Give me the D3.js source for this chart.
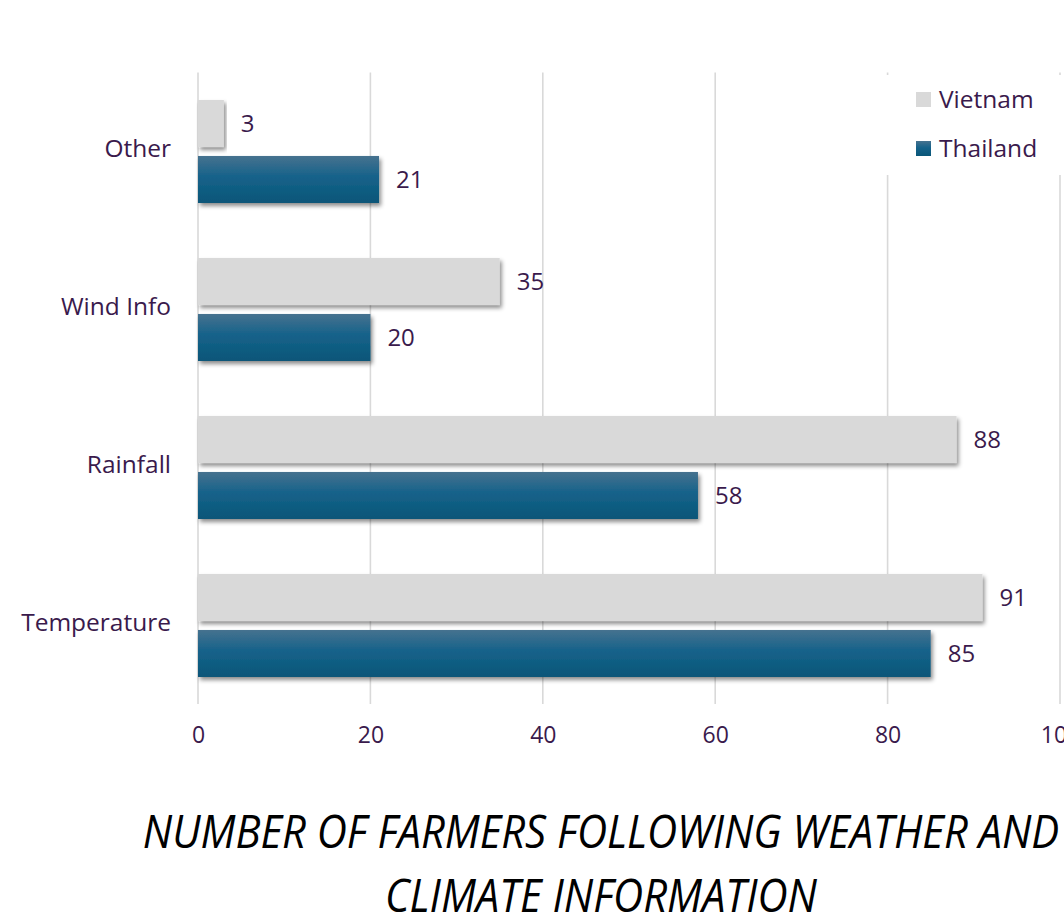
<html>
<head>
<meta charset="UTF-8">
<script src="https://d3js.org/d3.v7.min.js"></script>
<style>
body {
	margin: 0;
	background: #fff;
	font-family: "Open Sans", sans-serif;
}
</style>
</head>
<body>
<svg id="chart" width="1064" height="924"></svg>
<script>
// datos (de arriba hacia abajo)
var categories = ["Other", "Wind Info", "Rainfall", "Temperature"];
var seriesNames = ["Vietnam", "Thailand"];
var vietnam = [3, 35, 88, 91];
var thailand = [21, 20, 58, 85];
var xTicks = [0, 20, 40, 60, 80, 100];
var titleLines = ["NUMBER OF FARMERS FOLLOWING WEATHER AND", "CLIMATE INFORMATION"];

var data = categories.map((c, i) => ({cat: c, Vietnam: vietnam[i], Thailand: thailand[i]}));

var svg = d3.select("#chart"),
	margin = {top: 72.5, left: 198, bottom: 220, right: 4},
	width = +svg.attr("width"),
	height = +svg.attr("height");

var textColor = "#3a1a4c";

var defs = svg.append("defs");
var grad = defs.append("linearGradient")
	.attr("id", "blueGrad")
	.attr("x1", 0).attr("y1", 0).attr("x2", 0).attr("y2", 1);
grad.append("stop").attr("offset", "0%").attr("stop-color", "#46728f");
grad.append("stop").attr("offset", "45%").attr("stop-color", "#15628a");
grad.append("stop").attr("offset", "100%").attr("stop-color", "#0a5678");

var shadow = defs.append("filter").attr("id", "shadow")
	.attr("x", "-5%").attr("y", "-20%").attr("width", "115%").attr("height", "150%");
shadow.append("feDropShadow")
	.attr("dx", 2).attr("dy", 3).attr("stdDeviation", 2.2)
	.attr("flood-color", "#000").attr("flood-opacity", 0.45);

var x = d3.scaleLinear()
	.domain([0, 100])
	.range([margin.left, 1060]);

var y = d3.scaleBand()
	.domain(categories)
	.range([margin.top, height - margin.bottom + 0.5])
	.paddingInner(0.348)
	.paddingOuter(0.174);

var y1 = d3.scaleBand()
	.domain(seriesNames)
	.range([0, y.bandwidth()])
	.paddingInner(0.16)
	.paddingOuter(0);

var z = d3.scaleOrdinal()
	.domain(seriesNames)
	.range(["#d9d9d9", "url(#blueGrad)"]);

// lineas de cuadricula
svg.append("g").selectAll("line")
	.data(xTicks)
	.enter().append("line")
	.attr("x1", d => x(d)).attr("x2", d => x(d))
	.attr("y1", margin.top).attr("y2", height - margin.bottom)
	.attr("stroke", "#d9d9d9")
	.attr("stroke-width", 1.6);

// barras
var groups = svg.append("g").selectAll("g")
	.data(data)
	.enter().append("g")
	.attr("transform", d => `translate(0,${y(d.cat)})`);

groups.selectAll("rect")
	.data(d => seriesNames.map(k => ({key: k, value: d[k]})))
	.enter().append("rect")
	.attr("x", x(0))
	.attr("y", d => y1(d.key))
	.attr("width", d => x(d.value) - x(0))
	.attr("height", y1.bandwidth())
	.attr("fill", d => z(d.key))
	.attr("filter", "url(#shadow)");

groups.selectAll("text")
	.data(d => seriesNames.map(k => ({key: k, value: d[k]})))
	.enter().append("text")
	.attr("x", d => x(d.value) + 17)
	.attr("y", d => y1(d.key) + y1.bandwidth() / 2)
	.attr("dy", "0.35em")
	.attr("fill", textColor)
	.style("font-size", "24px")
	.text(d => d.value);

// eje y (categorias)
var yAxis = svg.append("g")
	.attr("transform", `translate(${margin.left},0)`)
	.call(d3.axisLeft(y).tickSize(0).tickPadding(27));
yAxis.select(".domain").remove();
yAxis.selectAll("text")
	.attr("fill", textColor)
	.attr("dy", "0.22em")
	.style("font-size", "24.5px")
	.style("font-family", "Open Sans");

// eje x
var xAxis = svg.append("g")
	.attr("transform", `translate(0,${height - margin.bottom})`)
	.call(d3.axisBottom(x).tickValues(xTicks).tickSize(0).tickPadding(23));
xAxis.select(".domain").remove();
xAxis.selectAll("text")
	.attr("fill", textColor)
	.style("font-size", "23px")
	.style("font-family", "Open Sans");

// leyenda
var legend = svg.append("g");
legend.append("rect")
	.attr("x", 886).attr("y", 75)
	.attr("width", 178).attr("height", 100)
	.attr("fill", "#fff");
var items = legend.selectAll("g")
	.data(seriesNames)
	.enter().append("g")
	.attr("transform", (d, i) => `translate(916,${92 + i * 49})`);
items.append("rect")
	.attr("width", 15).attr("height", 15)
	.attr("fill", d => z(d));
items.append("text")
	.attr("x", 23).attr("y", 7.5)
	.attr("dy", "0.35em")
	.attr("fill", textColor)
	.style("font-size", "24.5px")
	.text(d => d);

// titulo
var title = svg.append("g")
	.attr("transform", "translate(601,0)");
var tl = title.selectAll("text")
	.data(titleLines)
	.enter().append("text")
	.attr("text-anchor", "middle")
	.attr("y", (d, i) => 848 + i * 64)
	.attr("fill", "#000")
	.style("font-size", "45px")
	.style("font-style", "italic")
	.style("font-weight", 400)
	.text(d => d);
// comprimir horizontalmente para parecerse a la fuente original
var w2 = tl.nodes()[1].getComputedTextLength();
var sx = 432 / w2;
tl.attr("transform", `scale(${sx},1)`);
</script>
</body>
</html>
